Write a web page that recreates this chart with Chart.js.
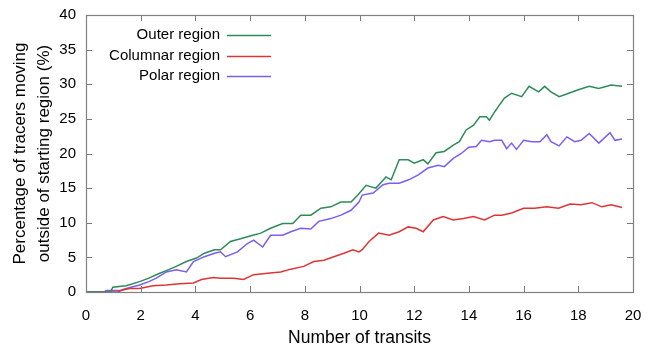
<!DOCTYPE html>
<html>
<head>
<meta charset="utf-8">
<script src="https://cdn.jsdelivr.net/npm/chart.js@4.4.1/dist/chart.umd.min.js"></script>
<style>
html,body{margin:0;padding:0;background:#fff;}
#wrap{width:649px;height:349px;position:relative;}
</style>
</head>
<body>
<div id="wrap"><canvas id="c" width="649" height="349"></canvas></div>
<script>
const seriesNames = ["Outer region", "Columnar region", "Polar region"];
const xTicks = [0, 2, 4, 6, 8, 10, 12, 14, 16, 18, 20];
const yTicks = [0, 5, 10, 15, 20, 25, 30, 35, 40];

const outerX = [0, 0.9, 0.98, 1.47, 1.96, 2.3, 2.63, 3.0, 3.3, 3.67, 4.04, 4.33, 4.7, 4.92, 5.28, 5.65, 6.1, 6.39, 6.75, 7.19, 7.56, 7.85, 8.22, 8.59, 8.95, 9.32, 9.69, 9.94, 10.24, 10.6, 10.97, 11.16, 11.45, 11.78, 12.0, 12.33, 12.5, 12.8, 13.1, 13.43, 13.65, 13.9, 14.17, 14.4, 14.64, 14.75, 14.94, 15.08, 15.3, 15.56, 15.93, 16.2, 16.55, 16.77, 17.0, 17.3, 17.65, 18.0, 18.4, 18.75, 19.2, 19.6];
const outerY = [0, 0, 0.7, 0.9, 1.5, 2.0, 2.6, 3.2, 3.7, 4.4, 4.9, 5.6, 6.1, 6.1, 7.3, 7.7, 8.2, 8.5, 9.2, 9.9, 9.9, 11.1, 11.1, 12.1, 12.3, 13.0, 13.0, 14.0, 15.4, 15.0, 16.6, 16.2, 19.1, 19.1, 18.6, 19.1, 18.5, 20.1, 20.3, 21.2, 21.7, 23.4, 24.1, 25.3, 25.3, 24.8, 26.0, 26.8, 28.0, 28.7, 28.2, 29.7, 28.9, 29.7, 28.9, 28.2, 28.7, 29.2, 29.7, 29.4, 29.9, 29.7];

const columnarX = [0, 1.16, 1.35, 1.59, 1.96, 2.45, 2.94, 3.42, 3.93, 4.22, 4.66, 4.92, 5.4, 5.76, 6.13, 6.64, 7.12, 7.49, 7.96, 8.33, 8.7, 9.06, 9.43, 9.76, 9.98, 10.1, 10.35, 10.7, 11.08, 11.45, 11.78, 12.07, 12.33, 12.7, 13.06, 13.43, 13.8, 14.17, 14.57, 14.94, 15.2, 15.56, 16.0, 16.4, 16.85, 17.28, 17.7, 18.1, 18.5, 18.86, 19.2, 19.6];
const columnarY = [0, 0, 0.3, 0.5, 0.5, 0.9, 1.0, 1.2, 1.3, 1.8, 2.1, 2.0, 2.0, 1.8, 2.5, 2.7, 2.9, 3.3, 3.7, 4.4, 4.6, 5.1, 5.6, 6.1, 5.8, 6.1, 7.3, 8.5, 8.2, 8.7, 9.4, 9.2, 8.7, 10.4, 10.9, 10.4, 10.6, 10.9, 10.4, 11.1, 11.1, 11.4, 12.1, 12.1, 12.3, 12.1, 12.7, 12.6, 12.9, 12.3, 12.6, 12.2];

const polarX = [0, 0.67, 0.73, 1.22, 1.47, 1.96, 2.3, 2.57, 2.94, 3.3, 3.67, 3.93, 4.33, 4.7, 4.92, 5.1, 5.54, 5.9, 6.13, 6.46, 6.75, 7.19, 7.49, 7.85, 8.22, 8.51, 8.95, 9.32, 9.69, 9.98, 10.1, 10.5, 10.86, 11.08, 11.45, 11.8, 12.15, 12.5, 12.88, 13.1, 13.43, 13.72, 14.0, 14.27, 14.46, 14.75, 14.94, 15.2, 15.38, 15.56, 15.74, 16.0, 16.3, 16.6, 16.85, 17.0, 17.3, 17.58, 17.87, 18.1, 18.4, 18.75, 19.16, 19.34, 19.6];
const polarY = [0, 0, 0.2, 0.2, 0.5, 1.0, 1.5, 2.0, 2.9, 3.2, 2.9, 4.4, 5.1, 5.6, 5.8, 5.1, 5.8, 7.0, 7.5, 6.5, 8.2, 8.2, 8.7, 9.2, 9.1, 10.2, 10.6, 11.1, 11.8, 13.0, 14.0, 14.3, 15.5, 15.7, 15.7, 16.2, 16.9, 17.9, 18.3, 18.1, 19.3, 20.0, 20.9, 21.0, 21.9, 21.7, 21.9, 21.9, 20.7, 21.5, 20.6, 21.9, 21.7, 21.7, 22.7, 21.7, 21.1, 22.4, 21.7, 21.9, 22.9, 21.5, 23.0, 21.9, 22.1];

const colors = ["#2e8b57", "#dd3535", "#7b5ef0"];
const toPts = (xs, ys) => xs.map((x, i) => ({x: x, y: ys[i]}));
const FONT = "'Liberation Sans', Arial, sans-serif";

const gnuplotFrame = {
  id: 'gnuplotFrame',
  afterDatasetsDraw(chart) {
    const {ctx, chartArea: a, scales} = chart;
    ctx.save();
    ctx.strokeStyle = '#7a7a7a';
    ctx.lineWidth = 1;
    const tl = 6;
    ctx.beginPath();
    xTicks.forEach(v => {
      const px = Math.round(scales.x.getPixelForValue(v)) + 0.5;
      if (v !== xTicks[0] && v !== xTicks[xTicks.length-1]) {
        ctx.moveTo(px, a.bottom); ctx.lineTo(px, a.bottom - tl);
        ctx.moveTo(px, a.top); ctx.lineTo(px, a.top + tl);
      }
    });
    yTicks.forEach(v => {
      const py = Math.round(scales.y.getPixelForValue(v)) + 0.5;
      if (v !== yTicks[0] && v !== yTicks[yTicks.length-1]) {
        ctx.moveTo(a.left, py); ctx.lineTo(a.left + tl, py);
        ctx.moveTo(a.right, py); ctx.lineTo(a.right - tl, py);
      }
    });
    ctx.stroke();
    ctx.strokeStyle = '#808080';
    ctx.lineWidth = 1.2;
    ctx.strokeRect(Math.round(a.left)+0.5, Math.round(a.top)+0.5, Math.round(a.right - a.left), Math.round(a.bottom - a.top));
    // legend (gnuplot style, inside top-left)
    ctx.font = '15px ' + FONT;
    ctx.textAlign = 'right';
    ctx.textBaseline = 'middle';
    const textRight = 220, lx0 = 227, lx1 = 271;
    const rowY = [35, 56, 76];
    chart.data.datasets.forEach((ds, i) => {
      ctx.fillStyle = '#000';
      ctx.fillText(ds.label, textRight, rowY[i]);
      ctx.strokeStyle = ds.borderColor;
      ctx.lineWidth = 1.5;
      ctx.beginPath();
      ctx.moveTo(lx0, rowY[i] + 0.5);
      ctx.lineTo(lx1, rowY[i] + 0.5);
      ctx.stroke();
    });
    ctx.restore();
  }
};

const whiteBg = {
  id: 'whiteBg',
  beforeDraw(chart) {
    const ctx = chart.ctx;
    ctx.save();
    ctx.fillStyle = '#fff';
    ctx.fillRect(0, 0, chart.width, chart.height);
    ctx.restore();
  }
};

new Chart(document.getElementById('c'), {
  type: 'line',
  data: {
    datasets: [
      {label: seriesNames[0], data: toPts(outerX, outerY), borderColor: colors[0]},
      {label: seriesNames[1], data: toPts(columnarX, columnarY), borderColor: colors[1]},
      {label: seriesNames[2], data: toPts(polarX, polarY), borderColor: colors[2]}
    ].map(d => Object.assign(d, {borderWidth: 1.5, pointRadius: 0, tension: 0, fill: false}))
  },
  options: {
    responsive: false,
    animation: false,
    layout: {padding: {left: 0, right: 16, top: 15, bottom: 0}},
    plugins: {legend: {display: false}, tooltip: {enabled: false}},
    scales: {
      x: {
        type: 'linear', min: 0, max: 20,
        afterBuildTicks: s => { s.ticks = xTicks.map(v => ({value: v})); },
        afterFit: s => { s.height = 57; s.paddingRight = 0; s.paddingLeft = 0; },
        grid: {display: false, drawTicks: false},
        border: {display: false},
        ticks: {color: '#000', font: {size: 15, family: FONT}, padding: 15, maxRotation: 0},
        title: {display: true, text: 'Number of transits', color: '#000', font: {size: 17.5, family: FONT}, padding: {top: 0, bottom: 0}}
      },
      y: {
        type: 'linear', min: 0, max: 40,
        afterBuildTicks: s => { s.ticks = yTicks.map(v => ({value: v})); },
        afterFit: s => { s.width = 86; s.paddingTop = 0; s.paddingBottom = 0; },
        grid: {display: false, drawTicks: false},
        border: {display: false},
        ticks: {color: '#000', font: {size: 15, family: FONT}, padding: 10},
        title: {display: true, text: ['Percentage of tracers moving', 'outside of starting region (%)'], color: '#000', font: {size: 17, family: FONT, lineHeight: 1.42}, padding: {top: 8, bottom: 0}}
      }
    }
  },
  plugins: [whiteBg, gnuplotFrame]
});
</script>
</body>
</html>
